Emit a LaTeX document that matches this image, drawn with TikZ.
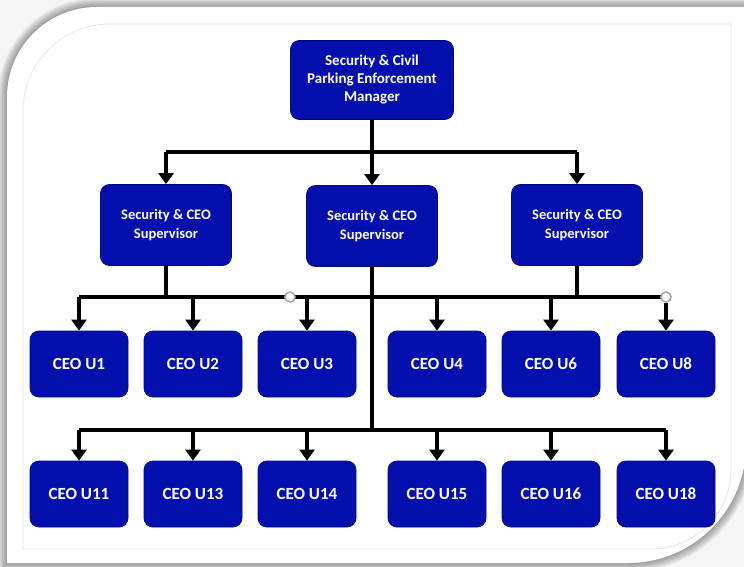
\documentclass[tikz,border=0pt]{standalone}
\usepackage{fontspec}
\setmainfont{Carlito}
\usetikzlibrary{arrows.meta}
\definecolor{boxblue}{RGB}{4,16,174}
\definecolor{boxedge}{RGB}{6,12,120}
% outline of the sheet, grown by #1
\newcommand{\sheetpath}[1]{(760,7-#1) -- (97,7-#1) arc[start angle=270, end angle=180, radius=90+#1] -- (7-#1,563+#1) -- (628,563+#1) arc[start angle=90, end angle=0, radius=118+#1] -- (746+#1,-20) -- cycle}
\begin{document}
\begin{tikzpicture}[x=1pt, y=-1pt,
  bluebox/.style={draw=boxedge, line width=0.8pt, fill=boxblue, rounded corners=9pt, text=white, align=center},
  mgrbox/.style={bluebox, minimum width=163pt, minimum height=79pt, font=\fontsize{15}{18}\bfseries},
  supbox/.style={bluebox, minimum width=131pt, minimum height=81pt, font=\fontsize{14.5}{19}\bfseries},
  unitbox/.style={bluebox, minimum width=98pt, minimum height=66pt, font=\fontsize{17}{19}\bfseries},
  wire/.style={line width=4.5pt},
  arr/.style={line width=4.5pt, -{Triangle[width=15pt, length=11pt]}},
  jump/.style={circle, draw=gray!70, fill=white, line width=1.6pt, inner sep=0pt, minimum size=10pt}]
\useasboundingbox (0,0) rectangle (744,567);
%draw background and shadow
\fill[gray!8] (0,0) rectangle (744,567);
\foreach \d in {9,8,...,1}{
   \fill[black, opacity=0.045] \sheetpath{\d};
}
\fill[white] \sheetpath{0};
\draw[gray!20, line width=0.8pt] (731,24) -- (110,24) arc[start angle=270, end angle=180, radius=87] -- (23,549) -- (651,549) arc[start angle=90, end angle=0, radius=80] -- cycle;

%draw boxes
\node[mgrbox] (mgr) at (372,80) {Security \& Civil\\Parking Enforcement\\Manager};
\node[supbox] (supL) at (166,225) {Security \& CEO\\Supervisor};
\node[supbox] (supM) at (372,226) {Security \& CEO\\Supervisor};
\node[supbox] (supR) at (577,225) {Security \& CEO\\Supervisor};
\foreach \n/\x in {1/79, 2/193, 3/307, 4/437, 6/551, 8/666}{
   \node[unitbox] (u\n) at (\x,364) {CEO U\n};
}
\foreach \n/\x in {11/79, 13/193, 14/307, 15/437, 16/551, 18/666}{
   \node[unitbox] (u\n) at (\x,494) {CEO U\n};
}

%draw buses
\coordinate (bus0) at (372,152);
\coordinate (bus1) at (372,297);
\coordinate (bus2) at (372,430);
\draw[wire] (mgr.south) -- (bus0);
\draw[wire] (supL.north |- bus0) -- (supR.north |- bus0);
\draw[wire] (supL.south) -- (supL.south |- bus1);
\draw[wire] (supR.south) -- (supR.south |- bus1);
\draw[wire] (u1.north |- bus1) -- (u8.north |- bus1);
\draw[wire] (supM.south) -- (bus2);
\draw[wire] (u11.north |- bus2) -- (u18.north |- bus2);

%draw arrows
\foreach \s in {supL, supM, supR}{
   \draw[arr] (\s.north |- bus0) -- (\s.north);
}
\foreach \n in {1, 2, 3, 4, 6}{
   \draw[arr] (u\n.north |- bus1) -- (u\n.north);
}
\foreach \n in {11, 13, 14, 15, 16, 18}{
   \draw[arr] (u\n.north |- bus2) -- (u\n.north);
}
\node[jump] (j1) at (290,297) {};
\node[jump] (j2) at (u8.north |- bus1) {};
\draw[arr] (j2.south) -- (u8.north);
\end{tikzpicture}
\end{document}
